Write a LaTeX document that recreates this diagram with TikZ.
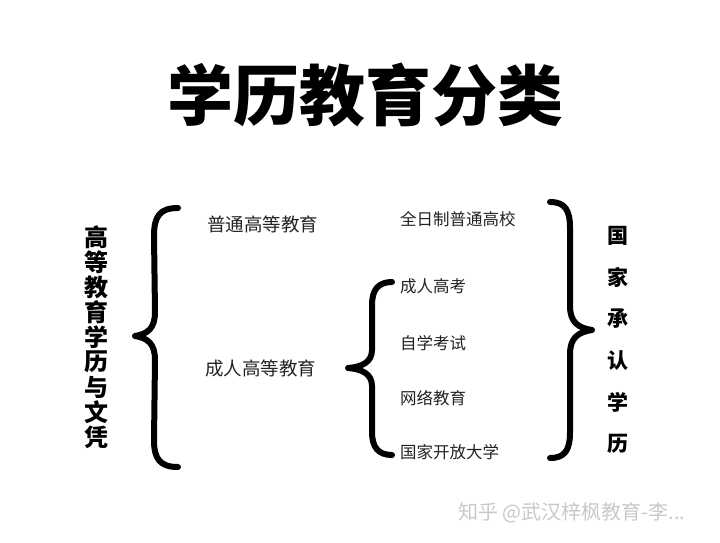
\documentclass[tikz,border=0pt]{standalone}
\usepackage{fontspec}
\setmainfont{Noto Sans CJK SC}
\usetikzlibrary{positioning}
\definecolor{TextGray}{HTML}{222222}
\definecolor{MarkGray}{HTML}{C8C8C8}
\tikzset{
  item/.style={anchor=west, inner sep=0pt, text=TextGray, font=\fontsize{#1}{#1}\selectfont},
  vchar/.style={inner sep=0pt, font=\bfseries\fontsize{#1}{#1}\selectfont},
  bracket/.style={line width=6pt, line cap=round, line join=round},
}
\begin{document}
\begin{tikzpicture}[x=1pt,y=-1pt]
\useasboundingbox (0,0) rectangle (720,543);

% Title
\node[vchar=66] (title) at (365,95) {学历教育分类};

% Vertical labels on both sides
\foreach \ch [count=\i] in {高,等,教,育,学,历,与,文,凭} {
    \node[vchar=24] (left\i) at (96,{237+(\i-1)*25}) {\ch};
}
\foreach \ch [count=\i] in {国,家,承,认,学,历} {
    \node[vchar=21] (right\i) at (618,{236+(\i-1)*41.5}) {\ch};
}

% Braces
\draw[bracket] (178,208) .. controls (160,208) and (154,216) .. (154,236) -- (155,312)
    .. controls (155,328) and (148,334) .. (135,336) .. controls (148,338) and (155,344) .. (155,360)
    -- (154,440) .. controls (154,459) and (160,467) .. (178,467);
\draw[bracket] (392,282) .. controls (378,282) and (372,290) .. (372,305) -- (372,350)
    .. controls (372,362) and (362,367) .. (348,368) .. controls (362,369) and (372,374) .. (372,386)
    -- (372,432) .. controls (372,447) and (378,455) .. (392,455);
\draw[bracket] (550,202) .. controls (565,202) and (570,210) .. (570,228) -- (570,306)
    .. controls (570,322) and (578,328) .. (592,330) .. controls (578,332) and (570,338) .. (570,354)
    -- (570,432) .. controls (570,450) and (565,458) .. (550,458);

% Kinds of higher education
\node[item=18.5] (regular) at (207,224) {普通高等教育};
\node[item=18.5] (adult) at (205,368) {成人高等教育};
\node[item=16.5] (fulltime) at (400,219) {全日制普通高校};
\foreach \y/\name/\label in {286/exam/成人高考, 343/self/自学考试, 398/online/网络教育, 452/open/国家开放大学} {
    \node[item=16.5] (\name) at (400,\y) {\label};
}

% Watermark
\node[item=20, text=MarkGray] (mark) at (458,513) {知乎 @武汉梓枫教育-李...};
\end{tikzpicture}
\end{document}
